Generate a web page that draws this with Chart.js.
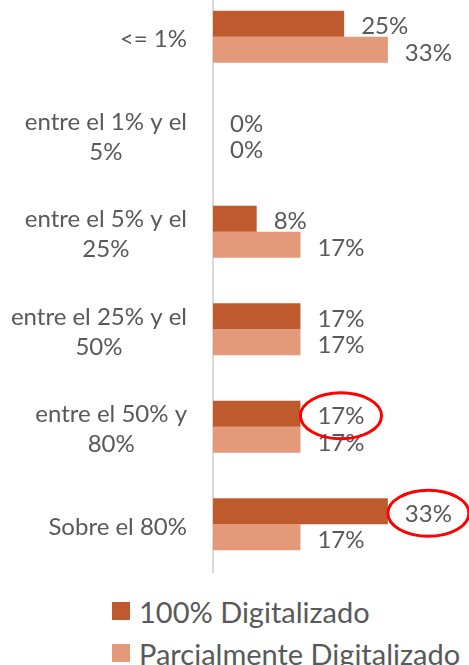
<!DOCTYPE html>
<html lang="es">
<head>
	<meta charset="UTF-8"/>
	<title>Digitalización</title>
	<script src="https://cdn.jsdelivr.net/npm/chart.js"></script>
	<style>
		body {
			margin: 0;
			background: #ffffff;
			width: 469px;
			height: 665px;
			overflow: hidden;
			font-family: Lato, sans-serif;
			color: #595959;
		}
		.wrap {
			position: relative;
			width: 469px;
			height: 585px;
			margin-top: -12px;
		}
		.legend {
			position: absolute;
			left: 112px;
			top: 590px;
		}
		.legend-item {
			display: flex;
			align-items: center;
			height: 42px;
			font-size: 29px;
			white-space: nowrap;
		}
		.legend-box {
			width: 18px;
			height: 18px;
			margin-right: 9px;
		}
	</style>
</head>
<body>
<div class="wrap">
	<canvas id="chart"></canvas>
</div>
<div class="legend" id="legend"></div>

<script>
	const categories = [
		["<= 1%"],
		["entre el 1% y el", "5%"],
		["entre el 5% y el", "25%"],
		["entre el 25% y el", "50%"],
		["entre el 50% y", "80%"],
		["Sobre el 80%"]
	];
	const seriesNames = ["100% Digitalizado", "Parcialmente Digitalizado"];
	const digitalizado = [25, 0, 8.33, 16.67, 16.67, 33.33];
	const parcial = [33.33, 0, 16.67, 16.67, 16.67, 16.67];
	const colors = ["#be5a2d", "#e3997a"];
	// labels circled in red: [dataset, category]
	const highlighted = [[0, 4], [0, 5]];

	const textColor = "#595959";

	const labelsPlugin = {
		id: "labelsPlugin",
		afterDatasetsDraw(chart) {
			const ctx = chart.ctx;
			const yScale = chart.scales.y;
			const area = chart.chartArea;
			ctx.save();
			ctx.fillStyle = textColor;
			ctx.textBaseline = "middle";

			// category labels: block right aligned, lines centred
			ctx.font = "24px Lato";
			ctx.textAlign = "center";
			categories.forEach((lines, i) => {
				const y = yScale.getPixelForValue(i) + 3;
				const w = Math.max(...lines.map(l => ctx.measureText(l).width));
				const cx = area.left - 26 - w / 2;
				lines.forEach((line, j) => {
					ctx.fillText(line, cx, y + (j - (lines.length - 1) / 2) * 30);
				});
			});

			// value labels
			ctx.textAlign = "left";
			chart.data.datasets.forEach((ds, d) => {
				const meta = chart.getDatasetMeta(d);
				meta.data.forEach((bar, i) => {
					ctx.fillText(Math.round(ds.data[i]) + "%", bar.x + 17, bar.y + 3);
				});
			});

			// red circles round highlighted labels
			ctx.strokeStyle = "#ff0000";
			ctx.lineWidth = 3;
			highlighted.forEach(([d, i]) => {
				const bar = chart.getDatasetMeta(d).data[i];
				const text = Math.round(chart.data.datasets[d].data[i]) + "%";
				const w = ctx.measureText(text).width;
				ctx.beginPath();
				ctx.ellipse(bar.x + 17 + w / 2, bar.y + 2, w / 2 + 17, 23, 0, 0, Math.PI * 2);
				ctx.stroke();
			});
			ctx.restore();
		}
	};

	const chart = new Chart(document.getElementById("chart"), {
		type: "bar",
		data: {
			labels: categories,
			datasets: [
				{
					label: seriesNames[0],
					data: digitalizado,
					backgroundColor: colors[0],
					categoryPercentage: 0.534,
					barPercentage: 1
				},
				{
					label: seriesNames[1],
					data: parcial,
					backgroundColor: colors[1],
					categoryPercentage: 0.534,
					barPercentage: 1
				}
			]
		},
		options: {
			indexAxis: "y",
			responsive: true,
			maintainAspectRatio: false,
			animation: false,
			layout: { padding: 0 },
			scales: {
				x: {
					display: false,
					min: 0,
					max: 48.8
				},
				y: {
					grid: { display: false },
					border: { display: true, color: "#d9d9d9", width: 2 },
					ticks: { display: false },
					afterFit(scale) {
						scale.width = 213;
					}
				}
			},
			plugins: {
				legend: { display: false },
				tooltip: { enabled: false }
			}
		},
		plugins: [labelsPlugin]
	});

	const legend = document.getElementById("legend");
	chart.data.datasets.forEach(ds => {
		legend.innerHTML += `<div class="legend-item"><span class="legend-box" style="background:${ds.backgroundColor}"></span>${ds.label}</div>`;
	});
</script>
</body>
</html>
